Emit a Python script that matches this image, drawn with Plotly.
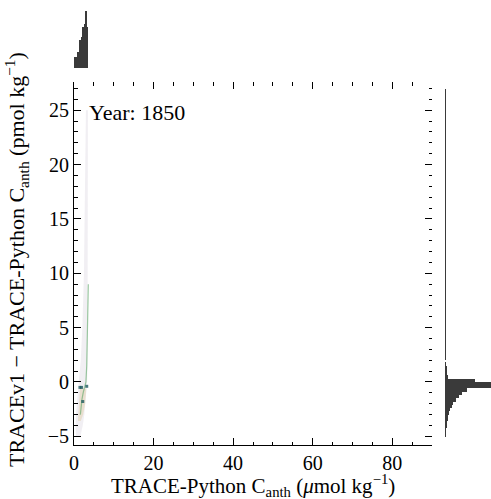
import plotly.graph_objects as go

# ---- data ----
# faint density envelope (x = TRACE-Python Canth, y = difference)
env_y = [-5.0, -4.0, -3.0, -2.0, -1.0, 0.0, 2.0, 5.0, 10.0, 15.0, 20.0, 25.0]
env_left = [0.5, 0.4, 0.5, 0.7, 0.9, 1.2, 1.7, 2.1, 2.5, 2.7, 2.9, 3.0]
env_right = [1.6, 2.2, 2.6, 2.9, 3.1, 3.3, 3.4, 3.5, 3.5, 3.5, 3.5, 3.5]
# beige patch
beige_y = [-3.6, -3.0, -2.0, -1.0, -0.6]
beige_left = [1.0, 1.1, 1.3, 1.4, 1.5]
beige_right = [1.7, 2.3, 2.8, 3.0, 3.1]
# green ridge line
green_x = [1.6, 1.8, 2.0, 2.3, 2.7, 3.0, 3.2, 3.4, 3.6]
green_y = [-3.0, -2.2, -1.6, -1.0, -0.5, 0.0, 1.5, 5.0, 9.0]
# dark teal cells
teal_x = [1.5, 1.9, 3.2, 2.2]
teal_y = [-0.5, -0.5, -0.4, -1.8]

# top marginal histogram (x)
tx_left = [0.08, 0.83, 1.26, 1.68, 2.19, 2.52, 2.77, 3.02]
tx_right = [0.83, 1.26, 1.68, 2.19, 2.52, 2.77, 3.02, 3.35]
tx_count = [11, 15, 27, 30, 40, 43, 55, 40]

# right marginal histogram (y)
ry_center = [-4.95, -4.65, -4.35, -4.05, -3.75, -3.45, -3.15, -2.85, -2.55, -2.25,
             -1.95, -1.65, -1.35, -1.05, -0.75, -0.45, -0.15, 0.15, 0.45, 0.75,
             1.05, 1.35, 1.65]
ry_count = [1, 1, 1, 2, 2, 3, 3, 4, 5, 7, 8, 11, 14, 17, 22, 48, 47, 30, 3, 2,
            1.5, 1.2, 1.0]
tail_y = [2.5, 3.5, 4.5, 5.5, 6.5, 7.5, 8.5, 9.5, 10.5, 11.5, 12.5, 13.5, 14.5,
          15.5, 16.5, 17.5, 18.5, 19.5, 20.5, 21.5, 22.5, 23.5, 24.5, 25.5, 26.5]
tail_count = [1.0, 0.9, 0.9, 0.8, 0.8, 0.8, 0.8, 0.7, 0.7, 0.7, 0.7, 0.7, 0.7,
              0.6, 0.6, 0.6, 0.6, 0.6, 0.6, 0.6, 0.6, 0.6, 0.6, 0.5, 0.5]

year_label = "Year: 1850"
x_title = "TRACE-Python C<sub>anth</sub> (<i>μ</i>mol kg<sup>−1</sup>)"
y_title = "TRACEv1 − TRACE-Python C<sub>anth</sub> (pmol kg<sup>−1</sup>)"
x_range = [0, 90]
y_range = [-5.8, 27.6]

fig = go.Figure()

fig.add_trace(go.Scatter(x=env_left + env_right[::-1], y=env_y + env_y[::-1],
                         fill="toself", mode="lines", line=dict(width=0),
                         fillcolor="rgba(215,208,222,0.35)", hoverinfo="skip",
                         showlegend=False))
fig.add_trace(go.Scatter(x=beige_left + beige_right[::-1], y=beige_y + beige_y[::-1],
                         fill="toself", mode="lines", line=dict(width=0),
                         fillcolor="rgba(225,205,165,0.45)", hoverinfo="skip",
                         showlegend=False))
fig.add_trace(go.Scatter(x=green_x, y=green_y, mode="lines",
                         line=dict(color="rgba(90,165,100,0.6)", width=1.2),
                         hoverinfo="skip", showlegend=False))
fig.add_trace(go.Scatter(x=teal_x, y=teal_y, mode="markers",
                         marker=dict(symbol="square", size=3, color="rgba(30,90,95,0.8)"),
                         hoverinfo="skip", showlegend=False))

fig.add_trace(go.Bar(x=[(a + b) / 2 for a, b in zip(tx_left, tx_right)],
                     y=tx_count, width=[b - a for a, b in zip(tx_left, tx_right)],
                     marker=dict(color="#3a3a3a", line=dict(width=0)),
                     xaxis="x2", yaxis="y2", showlegend=False))
fig.add_trace(go.Bar(y=ry_center, x=ry_count, orientation="h", width=0.3,
                     marker=dict(color="#3a3a3a", line=dict(width=0)),
                     xaxis="x3", yaxis="y3", showlegend=False))
fig.add_trace(go.Bar(y=tail_y, x=tail_count, orientation="h", width=1.0,
                     marker=dict(color="#3a3a3a", line=dict(width=0)),
                     xaxis="x3", yaxis="y3", showlegend=False))
fig.add_trace(go.Scatter(x=[0], y=[0], xaxis="x4", yaxis="y4", mode="markers",
                         marker=dict(opacity=0), hoverinfo="skip", showlegend=False))

FONT = "Liberation Serif"
tick_common = dict(ticks="inside", ticklen=7, tickwidth=1, tickcolor="black",
                   showgrid=False, zeroline=False, automargin=False)

xd = [74 / 491, 432 / 491]
yd = [(499 - 445) / 499, (499 - 82) / 499]

fig.update_layout(
    width=491, height=499,
    margin=dict(l=0, r=0, t=0, b=0),
    paper_bgcolor="white", plot_bgcolor="rgba(0,0,0,0)",
    font=dict(family=FONT, size=20, color="black"),
    bargap=0,
    xaxis=dict(domain=xd, range=x_range, showline=True, linecolor="black", linewidth=1,
               dtick=20, tick0=0,
               minor=dict(ticks="inside", ticklen=3.5, dtick=5, tickcolor="black"),
               **tick_common),
    yaxis=dict(domain=yd, range=y_range, showline=True, linecolor="black", linewidth=1,
               dtick=5, tick0=0,
               minor=dict(ticks="inside", ticklen=3.5, dtick=1, tickcolor="black"),
               **tick_common),
    xaxis4=dict(overlaying="x", side="top", anchor="y", range=x_range,
                showline=False, showticklabels=False, dtick=20, tick0=0,
                minor=dict(ticks="inside", ticklen=3.5, dtick=5, tickcolor="black"),
                **tick_common),
    yaxis4=dict(overlaying="y", side="right", anchor="x", range=y_range,
                showline=False, showticklabels=False, dtick=5, tick0=0,
                minor=dict(ticks="inside", ticklen=3.5, dtick=1, tickcolor="black"),
                **tick_common),
    xaxis2=dict(domain=xd, range=x_range, anchor="y2", visible=False),
    yaxis2=dict(domain=[(499 - 68) / 499, (499 - 8) / 499], range=[0, 58],
                anchor="x2", visible=False),
    xaxis3=dict(domain=[445 / 491, 1.0], range=[0, 46], anchor="y3", visible=False),
    yaxis3=dict(domain=yd, range=y_range, anchor="x3", visible=False),
    annotations=[
        dict(text=year_label, xref="paper", yref="paper",
             x=87 / 491, y=(499 - 112) / 499, xanchor="left", yanchor="middle",
             showarrow=False, font=dict(size=22, family=FONT)),
        dict(text=x_title, xref="paper", yref="paper",
             x=253 / 491, y=(499 - 485) / 499, xanchor="center", yanchor="middle",
             showarrow=False, font=dict(size=21, family=FONT)),
        dict(text=y_title, xref="paper", yref="paper", textangle=-90,
             x=16 / 491, y=(499 - 260) / 499, xanchor="center", yanchor="middle",
             showarrow=False, font=dict(size=22, family=FONT)),
    ],
)

fig.write_html("out.html")
